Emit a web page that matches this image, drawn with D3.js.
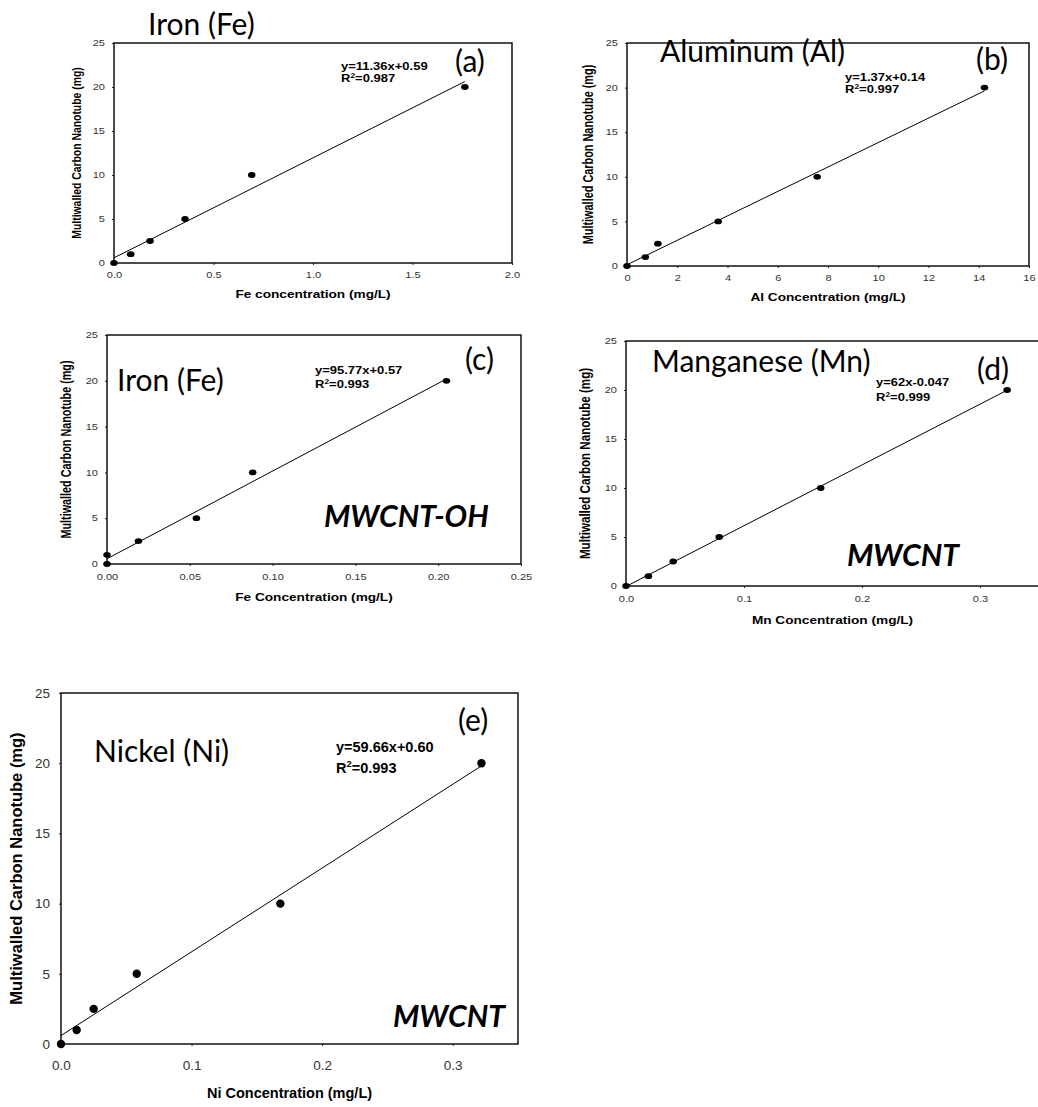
<!DOCTYPE html>
<html>
<head>
<meta charset="utf-8">
<script src="https://cdn.jsdelivr.net/npm/d3@7"></script>
<style>
  body { margin: 0; background: #fff; }
  svg { display: block; }
  .tick text { fill: #333; font-family: "Liberation Sans", Arial, sans-serif; }
  .axlabel { font-family: "Liberation Sans", Arial, sans-serif; font-weight: bold; fill: #000; }
  .eq { font-family: "Liberation Sans", Arial, sans-serif; font-weight: bold; fill: #000; }
  .title { font-family: Lato, "Open Sans", sans-serif; fill: #000; }
  .tag { font-family: Lato, "Open Sans", sans-serif; font-weight: bold; font-style: italic; fill: #000; }
</style>
</head>
<body>
<svg id="fig"></svg>
<script>
// calibration points: MWCNT mass (mg) vs metal concentration (mg/L)
const massMg = [0, 1, 2.5, 5, 10, 20];
const feX    = [0, 0.084, 0.181, 0.357, 0.692, 1.763];
const alX    = [0, 0.73, 1.23, 3.63, 7.57, 14.23];
const feOhX  = [0, 0, 0.019, 0.054, 0.088, 0.205];
const mnX    = [0, 0.019, 0.040, 0.079, 0.165, 0.323];
const niX    = [0, 0.012, 0.025, 0.058, 0.168, 0.322];

// linear fits  [slope, intercept]
const feFit   = [11.36, 0.59];
const alFit   = [1.37, 0.14];
const feOhFit = [95.77, 0.57];
const mnFit   = [62, -0.047];
const niFit   = [59.66, 0.60];

const eqLabels = ["y=11.36x+0.59", "y=1.37x+0.14", "y=95.77x+0.57", "y=62x-0.047", "y=59.66x+0.60"];
const r2Labels = ["=0.987", "=0.997", "=0.993", "=0.999", "=0.993"];

const yTicks = [0, 5, 10, 15, 20, 25];
const xTicksA = [0, 0.5, 1, 1.5, 2];
const xTicksB = [0, 2, 4, 6, 8, 10, 12, 14, 16];
const xTicksC = [0, 0.05, 0.1, 0.15, 0.2, 0.25];
const xTicksD = [0, 0.1, 0.2, 0.3];

const xTitles = ["Fe concentration (mg/L)", "Al Concentration (mg/L)", "Fe Concentration (mg/L)",
                 "Mn Concentration (mg/L)", "Ni Concentration (mg/L)"];
const yTitle = "Multiwalled Carbon Nanotube (mg)";
const metalNames = ["Iron (Fe)", "Aluminum (Al)", "Iron (Fe)", "Manganese (Mn)", "Nickel (Ni)"];
const panelTags = ["(a)", "(b)", "(c)", "(d)", "(e)"];
const materialTags = [null, null, "MWCNT-OH", "MWCNT", "MWCNT"];

// layout of each panel (pixels) -- the a-d plots were stretched sideways in the original
const panels = [
  {x: 114, y: 43, w: 398, h: 220, xMax: 2, xs: feX, fit: feFit, ticks: xTicksA, fmt: ".1f",
   sx: 1.3, tickFs: 8.5, labFs: 10.5, yLabFs: 10.4, eqFs: 10, pad: 9, yPad: 9,
   xLabY: 298, yLabX: 76, name: [148, 35], pTag: [455, 72], eq: [341, 70, 82], mat: null,
   rx: 3.8, ry: 2.9},
  {x: 627, y: 43, w: 402, h: 223, xMax: 16, xs: alX, fit: alFit, ticks: xTicksB, fmt: "d",
   sx: 1.3, tickFs: 8.5, labFs: 10.5, yLabFs: 10.9, eqFs: 10, pad: 9, yPad: 9,
   xLabY: 301, yLabX: 588, name: [660, 62], pTag: [976, 70], eq: [845, 81, 93], mat: null,
   rx: 3.8, ry: 2.9},
  {x: 107, y: 335, w: 414, h: 229, xMax: 0.25, xs: feOhX, fit: feOhFit, ticks: xTicksC, fmt: ".2f",
   sx: 1.3, tickFs: 8.5, labFs: 10.5, yLabFs: 10.8, eqFs: 10, pad: 10, yPad: 9,
   xLabY: 601, yLabX: 66, name: [117, 391], pTag: [465, 370], eq: [315, 374, 388], mat: [324, 527],
   rx: 3.8, ry: 2.9},
  {x: 626, y: 341, w: 413, h: 245, xMax: 0.35, xs: mnX, fit: mnFit, ticks: xTicksD, fmt: ".1f",
   sx: 1.3, tickFs: 8.5, labFs: 10.5, yLabFs: 11.6, eqFs: 10, pad: 10, yPad: 9,
   xLabY: 624, yLabX: 585, name: [652, 372], pTag: [977, 380], eq: [876, 386, 401], mat: [847, 566],
   rx: 3.8, ry: 2.9},
  {x: 61, y: 693, w: 457, h: 351, xMax: 0.35, xs: niX, fit: niFit, ticks: xTicksD, fmt: ".1f",
   sx: 1, tickFs: 13.5, labFs: 14.5, yLabFs: 16.5, eqFs: 14.5, pad: 16, yPad: 11,
   xLabY: 1098, yLabX: 16, name: [94, 762], pTag: [458, 731], eq: [336, 752, 773], mat: [393, 1027],
   rx: 4.2, ry: 4.2}
];

const svg = d3.select("#fig").attr("width", 1038).attr("height", 1107);

panels.forEach((p, i) => {
  const xScale = d3.scaleLinear().domain([0, p.xMax]).range([p.x, p.x + p.w]);
  const yScale = d3.scaleLinear().domain([0, 25]).range([p.y + p.h, p.y]);
  const g = svg.append("g");

  // axes (no domain, frame drawn separately)
  const xAxis = d3.axisBottom(xScale).tickValues(p.ticks).tickFormat(d3.format(p.fmt))
      .tickSizeInner(2).tickSizeOuter(0).tickPadding(p.pad - 2);
  const yAxis = d3.axisLeft(yScale).tickValues(yTicks).tickFormat(d3.format("d"))
      .tickSizeInner(2).tickSizeOuter(0).tickPadding(p.yPad - 2);

  const xg = g.append("g").attr("transform", `translate(0,${p.y + p.h})`).call(xAxis);
  const yg = g.append("g").attr("transform", `translate(${p.x},0)`).call(yAxis);
  [xg, yg].forEach(a => {
    a.select(".domain").remove();
    a.selectAll(".tick line").attr("stroke", "#222");
    a.selectAll(".tick text").attr("font-size", p.tickFs);
  });
  xg.selectAll(".tick text").attr("transform", `scale(${p.sx},1)`);
  yg.selectAll(".tick text").attr("x", -p.yPad / p.sx).attr("transform", `scale(${p.sx},1)`);

  // frame
  g.append("rect")
    .attr("x", p.x).attr("y", p.y).attr("width", p.w).attr("height", p.h)
    .attr("fill", "none").attr("stroke", "#111").attr("stroke-width", 1.5);

  // regression line
  const xEnd = d3.max(p.xs);
  g.append("line")
    .attr("x1", xScale(0)).attr("y1", yScale(p.fit[1]))
    .attr("x2", xScale(xEnd)).attr("y2", yScale(p.fit[0] * xEnd + p.fit[1]))
    .attr("stroke", "#000").attr("stroke-width", 1);

  // points
  g.selectAll(".pt").data(p.xs.map((x, k) => [x, massMg[k]]))
    .enter().append("ellipse")
    .attr("class", "pt")
    .attr("cx", d => xScale(d[0])).attr("cy", d => yScale(d[1]))
    .attr("rx", p.rx).attr("ry", p.ry).attr("fill", "#000");

  // axis titles
  g.append("text").attr("class", "axlabel")
    .attr("transform", `translate(${p.x + p.w / 2 - (i === 3 ? 0 : 0)},${p.xLabY}) scale(${p.sx},1)`)
    .attr("text-anchor", "middle").attr("font-size", p.labFs)
    .text(xTitles[i]);
  g.append("text").attr("class", "axlabel")
    .attr("transform", `translate(${p.yLabX},${p.y + p.h / 2}) scale(${p.sx},1) rotate(-90)`)
    .attr("text-anchor", "middle").attr("dy", "0.35em").attr("font-size", p.yLabFs)
    .text(yTitle);

  // fit equation
  const eq = g.append("g").attr("class", "eq").attr("font-size", p.eqFs);
  eq.append("text").attr("transform", `translate(${p.eq[0]},${p.eq[1]}) scale(${p.sx},1)`)
    .text(eqLabels[i]);
  const r2 = eq.append("text").attr("transform", `translate(${p.eq[0]},${p.eq[2]}) scale(${p.sx},1)`);
  r2.append("tspan").text("R");
  r2.append("tspan").attr("dy", -p.eqFs * 0.4).attr("font-size", p.eqFs * 0.65).text("2");
  r2.append("tspan").attr("dy", p.eqFs * 0.4).text(r2Labels[i]);

  // annotations
  g.append("text").attr("class", "title").attr("font-size", 30)
    .attr("x", p.name[0]).attr("y", p.name[1]).text(metalNames[i]);
  g.append("text").attr("class", "title").attr("font-size", 30)
    .attr("x", p.pTag[0]).attr("y", p.pTag[1]).text(panelTags[i]);
  if (p.mat) {
    g.append("text").attr("class", "tag").attr("font-size", 30)
      .attr("x", p.mat[0]).attr("y", p.mat[1]).text(materialTags[i]);
  }
});
</script>
</body>
</html>
